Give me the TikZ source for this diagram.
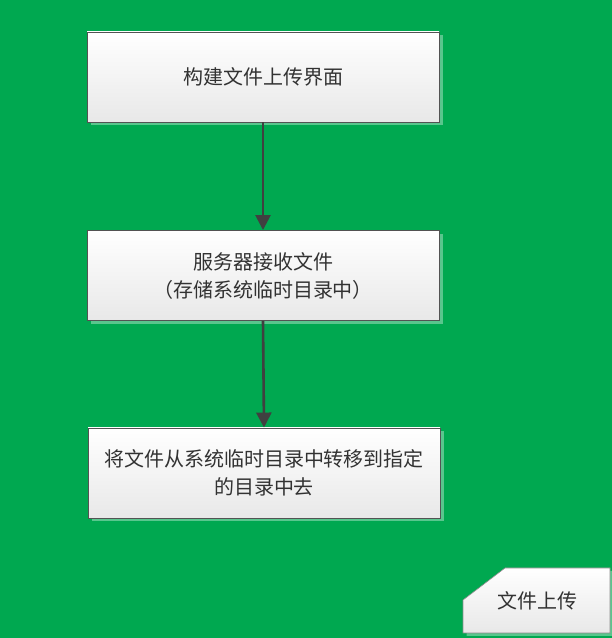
\documentclass[tikz,border=0pt]{standalone}
\usepackage{fontspec}
\newfontfamily\cjk{Noto Sans CJK SC}
\usetikzlibrary{arrows.meta,shadows}
\definecolor{bggreen}{RGB}{0,168,80}
\definecolor{txt}{RGB}{50,50,50}
\definecolor{arr}{RGB}{64,64,64}
\tikzset{
  stepbox/.style={draw=arr!90, line width=0.9pt, minimum width=352pt, minimum height=90pt,
    top color=white, bottom color=black!9, align=center, font=\cjk\fontsize{20}{28}\selectfont, text=txt,
    drop shadow={shadow xshift=3.5pt, shadow yshift=-3.5pt, fill=white, opacity=0.35}},
  flow/.style={draw=arr, line width=2.6pt, -{Triangle[length=15pt,width=15pt]}},
}
\begin{document}
\begin{tikzpicture}[x=1pt,y=1pt]
\fill[bggreen] (0,0) rectangle (612,638);
\useasboundingbox (0,0) rectangle (612,638);
\node[stepbox] (a) at (263,561) {构建文件上传界面};
\node[stepbox] (b) at (263,362.5) {服务器接收文件\\（存储系统临时目录中）};
\node[stepbox] (c) at (264,165) {将文件从系统临时目录中转移到指定\\的目录中去};
\draw[flow] (a.south) -- (b.north);
\draw[flow] (b.south) -- (c.north);
% note shape
\fill[white, opacity=0.35] (466.5,2) -- (613.5,2) -- (613.5,67) -- (508.5,67) -- (466.5,35) -- cycle;
\shade[top color=white, bottom color=black!9, draw=arr!60, line width=0.6pt]
  (463,5) -- (610,5) -- (610,70) -- (505,70) -- (463,38) -- cycle;
\node[font=\cjk\fontsize{20}{24}\selectfont, text=txt] (n) at (537,37) {文件上传};
\end{tikzpicture}
\end{document}
